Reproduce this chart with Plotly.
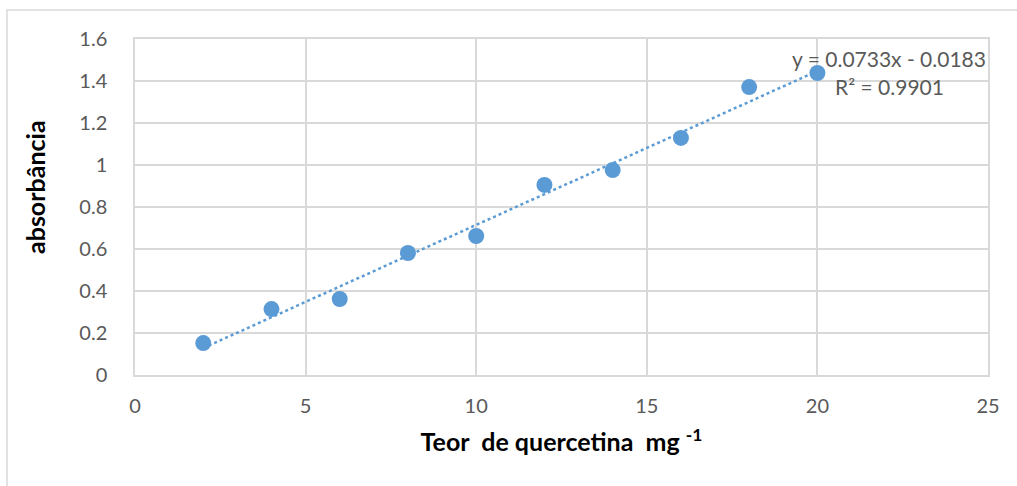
import plotly.graph_objects as go

conc = [2, 4, 6, 8, 10, 12, 14, 16, 18, 20]
absorb = [0.152, 0.314, 0.362, 0.581, 0.662, 0.905, 0.976, 1.129, 1.371, 1.438]
slope, intercept = 0.0733, -0.0183
trend_x = [2, 20]
trend_y = [slope * x + intercept for x in trend_x]

blue = "#5B9BD5"
grid = "#D9D9D9"
tickc = "#595959"
font = "Lato"

fig = go.Figure()
fig.add_trace(go.Scatter(x=trend_x, y=trend_y, mode="lines",
                         line=dict(color=blue, width=2.5, dash="dot"),
                         hoverinfo="skip", showlegend=False))
fig.add_trace(go.Scatter(x=conc, y=absorb, mode="markers",
                         marker=dict(color=blue, size=16),
                         showlegend=False, cliponaxis=False))

fig.update_layout(
    width=1017, height=486,
    margin=dict(l=135, r=29, t=39, b=111),
    paper_bgcolor="white", plot_bgcolor="white",
    font=dict(family=font, size=20, color=tickc),
    xaxis=dict(range=[0, 25], dtick=5, tick0=0, showgrid=True, gridcolor=grid,
               gridwidth=1.5, showline=True, linecolor=grid, linewidth=1.5,
               mirror=True, zeroline=False, ticks="", ticklabelstandoff=12,
               tickfont=dict(family=font, size=20, color=tickc),
               title=dict(text="<b>Teor  de quercetina  mg <sup>-1</sup></b>",
                          font=dict(family=font, size=25, color="black"),
                          standoff=18)),
    yaxis=dict(range=[0, 1.6], dtick=0.2, tick0=0, showgrid=True, gridcolor=grid,
               gridwidth=1.5, showline=True, linecolor=grid, linewidth=1.5,
               mirror=True, zeroline=False, ticks="", ticklabelstandoff=22,
               tickfont=dict(family=font, size=20, color=tickc)),
    shapes=[dict(type="rect", xref="paper", yref="paper",
                 x0=(7 - 135) / 853, x1=1.2, y0=-0.6, y1=1 + (39 - 10) / 336,
                 line=dict(color=grid, width=1.5), fillcolor="rgba(0,0,0,0)",
                 layer="below")],
    annotations=[
        dict(x=(35 - 135) / 853, y=(375 - 187) / 336, xref="paper", yref="paper",
             showarrow=False, textangle=-90, text="<b>absorbância</b>",
             font=dict(family=font, size=25, color="black"),
             xanchor="center", yanchor="middle"),
        dict(x=22.1, y=(375 - 58) / 210, xref="x", yref="y", showarrow=False,
             text="y = 0.0733x - 0.0183", font=dict(family=font, size=21, color=tickc),
             xanchor="center", yanchor="middle"),
        dict(x=22.1, y=(375 - 86) / 210, xref="x", yref="y", showarrow=False,
             text="R² = 0.9901", font=dict(family=font, size=21, color=tickc),
             xanchor="center", yanchor="middle"),
    ],
)

fig.write_html("out.html")
